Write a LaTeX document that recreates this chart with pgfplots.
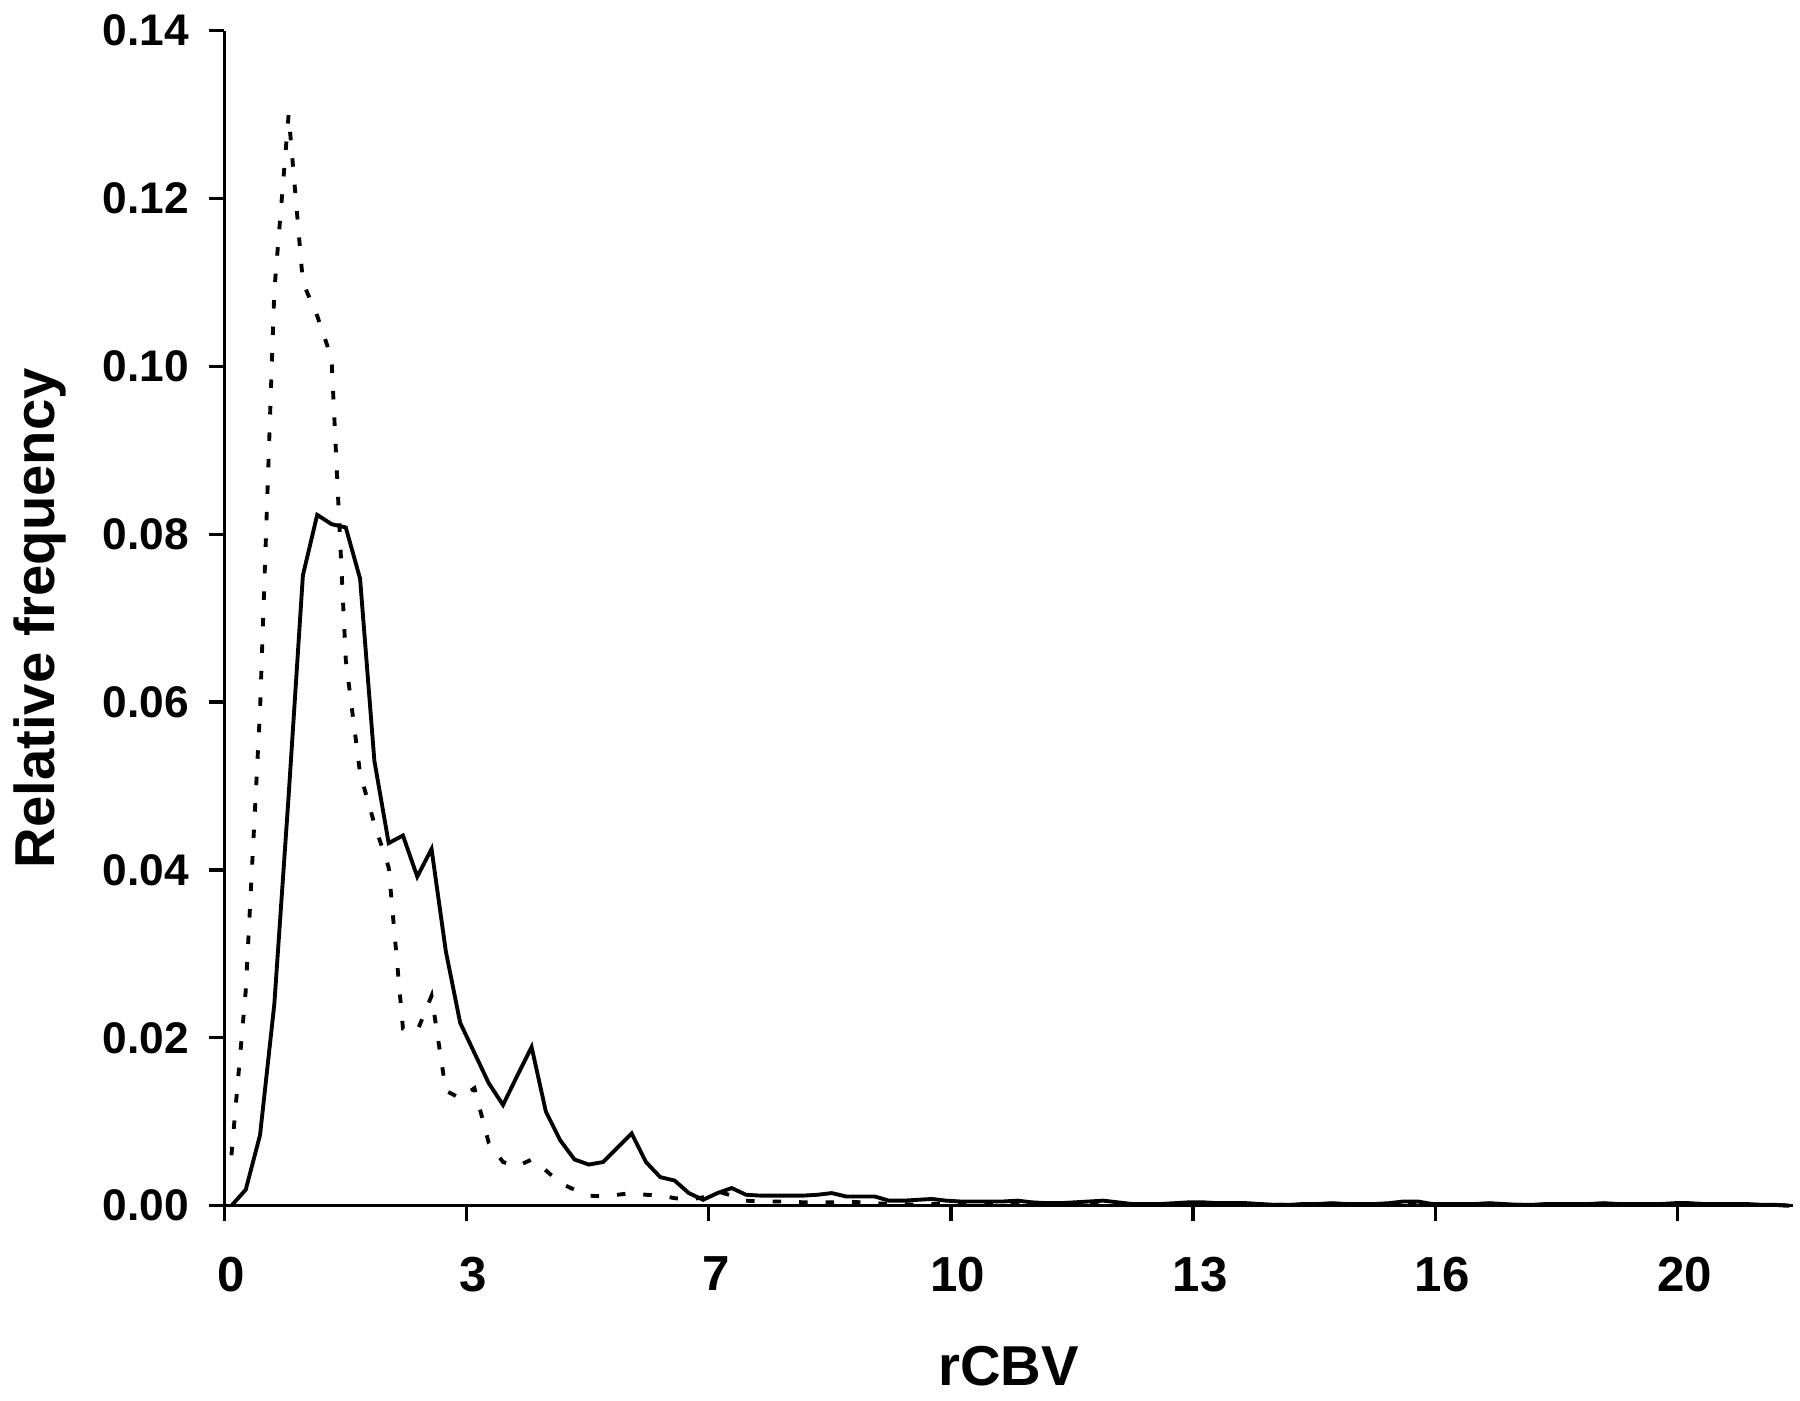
\documentclass[border=0pt]{standalone}
\usepackage{fontspec}
\setmainfont{Liberation Sans}
\usepackage{pgfplots}
\usepackage{pgfplotstable}
\pgfplotsset{compat=1.18}

\pgfplotstableread{
x y
0.1 0.0000
0.3 0.0019
0.5 0.0084
0.7 0.0240
0.9 0.0488
1.1 0.0751
1.3 0.0823
1.5 0.0812
1.7 0.0808
1.9 0.0747
2.1 0.0530
2.3 0.0432
2.5 0.0441
2.7 0.0392
2.9 0.0425
3.1 0.0303
3.3 0.0218
3.5 0.0182
3.7 0.0146
3.9 0.0120
4.1 0.0155
4.3 0.0189
4.5 0.0112
4.7 0.0078
4.9 0.0055
5.1 0.0049
5.3 0.0052
5.5 0.0069
5.7 0.0086
5.9 0.0052
6.1 0.0034
6.3 0.0030
6.5 0.0015
6.7 0.0007
6.9 0.0015
7.1 0.0021
7.3 0.0013
7.5 0.0012
7.7 0.0012
7.9 0.0012
8.1 0.0012
8.3 0.0013
8.5 0.0015
8.7 0.0011
8.9 0.0011
9.1 0.0011
9.3 0.0006
9.5 0.0006
9.7 0.0007
9.9 0.0008
10.1 0.0006
10.3 0.0005
10.5 0.0005
10.7 0.0005
10.9 0.0005
11.1 0.0006
11.3 0.0004
11.5 0.0003
11.7 0.0003
11.9 0.0004
12.1 0.0005
12.3 0.0006
12.5 0.0004
12.7 0.0002
12.9 0.0002
13.1 0.0002
13.3 0.0003
13.5 0.0004
13.7 0.0004
13.9 0.0003
14.1 0.0003
14.3 0.0003
14.5 0.0002
14.7 0.0001
14.9 0.0001
15.1 0.0002
15.3 0.0002
15.5 0.0003
15.7 0.0002
15.9 0.0002
16.1 0.0002
16.3 0.0003
16.5 0.0005
16.7 0.0005
16.9 0.0002
17.1 0.0002
17.3 0.0002
17.5 0.0002
17.7 0.0003
17.9 0.0002
18.1 0.0001
18.3 0.0001
18.5 0.0002
18.7 0.0002
18.9 0.0002
19.1 0.0002
19.3 0.0003
19.5 0.0002
19.7 0.0002
19.9 0.0002
20.1 0.0002
20.3 0.0003
20.5 0.0003
20.7 0.0002
20.9 0.0002
21.1 0.0002
21.3 0.0002
21.5 0.0001
21.7 0.0001
21.9 0.0000
}\solidtable

\pgfplotstableread{
x y
0.1 0.0060
0.3 0.0256
0.5 0.0590
0.7 0.1090
0.9 0.1300
1.1 0.1100
1.3 0.1060
1.5 0.1010
1.7 0.0650
1.9 0.0515
2.1 0.0455
2.3 0.0403
2.5 0.0211
2.7 0.0208
2.9 0.0250
3.1 0.0137
3.3 0.0128
3.5 0.0140
3.7 0.0075
3.9 0.0052
4.1 0.0047
4.3 0.0055
4.5 0.0042
4.7 0.0027
4.9 0.0019
5.1 0.0012
5.3 0.0011
5.5 0.0013
5.7 0.0015
5.9 0.0013
6.1 0.0012
6.3 0.0009
6.5 0.0007
6.7 0.0010
6.9 0.0017
7.1 0.0012
7.3 0.0006
7.5 0.0005
7.7 0.0005
7.9 0.0005
8.1 0.0004
8.3 0.0004
8.5 0.0004
8.7 0.0005
8.9 0.0004
9.1 0.0003
9.3 0.0002
9.5 0.0002
9.7 0.0001
9.9 0.0002
10.1 0.0002
10.3 0.0001
10.5 0.0002
10.7 0.0002
10.9 0.0001
11.1 0.0002
11.3 0.0001
11.5 0.0001
11.7 0.0002
11.9 0.0002
12.1 0.0001
12.3 0.0002
12.5 0.0001
12.7 0.0001
12.9 0.0001
13.1 0.0002
13.3 0.0001
13.5 0.0001
13.7 0.0001
13.9 0.0001
14.1 0.0001
14.3 0.0001
14.5 0.0001
14.7 0.0001
14.9 0.0001
15.1 0.0001
15.3 0.0001
15.5 0.0001
15.7 0.0002
15.9 0.0001
16.1 0.0001
16.3 0.0001
16.5 0.0001
16.7 0.0001
16.9 0.0001
17.1 0.0001
17.3 0.0001
17.5 0.0001
17.7 0.0001
17.9 0.0001
18.1 0.0001
18.3 0.0001
18.5 0.0001
18.7 0.0001
18.9 0.0001
19.1 0.0001
19.3 0.0001
19.5 0.0001
19.7 0.0001
19.9 0.0001
20.1 0.0001
20.3 0.0001
20.5 0.0001
20.7 0.0001
20.9 0.0001
21.1 0.0001
21.3 0.0001
21.5 0.0001
21.7 0.0001
21.9 0.0000
}\dottedtable

\begin{document}
\begin{tikzpicture}
\begin{axis}[
  at={(0,0)}, anchor=south west,
  width=156.87mm, height=117.51mm, scale only axis,
  xmin=0, xmax=21.95, ymin=0, ymax=0.14,
  axis lines=left,
  axis line style={-, line width=0.95pt, black},
  every tick/.style={line width=0.95pt, black},
  tick align=outside,
  major tick length=1.57mm,
  minor tick num=0,
  xtick={0,3.389,6.778,10.167,13.556,16.945,20.334},
  xticklabels={0,3,7,10,13,16,20},
  ytick={0,0.02,0.04,0.06,0.08,0.10,0.12,0.14},
  yticklabels={0.00,0.02,0.04,0.06,0.08,0.10,0.12,0.14},
  xticklabel style={font=\fontsize{14}{16}\selectfont\bfseries, inner sep=0pt, anchor=north, xshift=0.7mm, yshift=-3.5mm},
  yticklabel style={font=\fontsize{12.6}{15}\selectfont\bfseries, inner sep=0pt, anchor=east, xshift=-1.9mm},
  xlabel={rCBV},
  ylabel={Relative frequency},
  every axis x label/.style={at={(axis description cs:0.5,-0.1362)}, anchor=center, font=\fontsize{16}{19}\selectfont\bfseries},
  every axis y label/.style={at={(axis description cs:-0.1173,0.5)}, rotate=90, anchor=center, font=\fontsize{16}{19}\selectfont\bfseries},
  clip=false,
]
\addplot[black, line width=1.1pt, line join=miter] table[x=x,y=y] {\solidtable};
\addplot[black, line width=1.1pt, dash pattern=on 0.85mm off 1.8mm] table[x=x,y=y] {\dottedtable};
\end{axis}
\pgfresetboundingbox
\path (-22.43mm,-19.53mm) rectangle (157.57mm,120.57mm);
\end{tikzpicture}
\end{document}
